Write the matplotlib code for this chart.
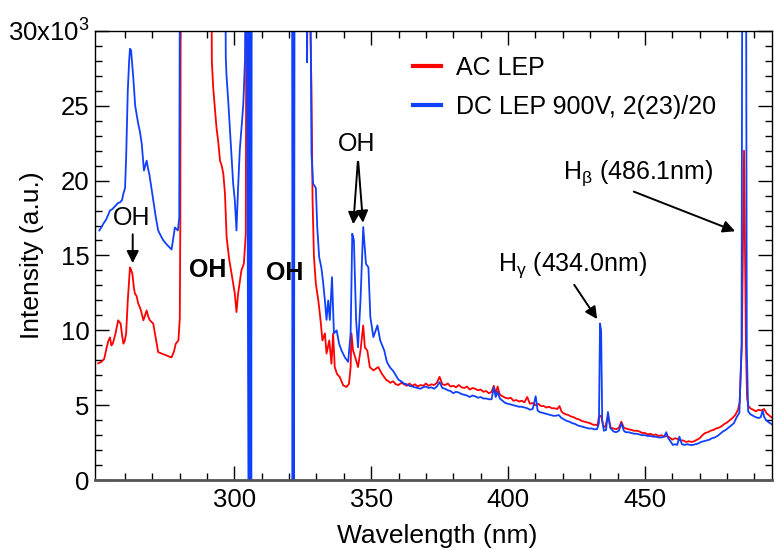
import matplotlib.pyplot as plt
from matplotlib.ticker import MultipleLocator, FixedLocator

plt.rcParams['font.family'] = ['Liberation Sans', 'DejaVu Sans']
plt.rcParams['mathtext.fontset'] = 'custom'
plt.rcParams['mathtext.rm'] = 'Liberation Sans'
plt.rcParams['mathtext.it'] = 'Liberation Sans'

# ---- data (values > 30e3 are off scale) ----
ac_wl = [250.3, 251.5, 252.5, 253.4, 254.0, 254.6, 255.1, 255.6, 256.5, 257.6,
         258.5, 259.0, 259.5, 260.0, 260.5, 261.1, 261.9, 262.4, 262.8, 263.3,
         263.7, 264.3, 264.9, 265.8, 266.8, 267.4, 268.0, 268.6, 269.2, 270.4,
         271.3, 272.2, 273.5, 275.2, 276.2, 277.1, 278.0, 278.6, 279.6, 280.1,
         280.3, 280.5, 291.6, 291.8, 292.3, 292.9, 293.5, 294.1, 294.8, 295.4,
         296.0, 296.6, 297.2, 298.1, 299.0, 300.2, 300.8, 301.4, 302.6, 303.5,
         304.2, 304.5, 327.2, 327.8, 328.2, 328.6, 329.1, 329.8, 330.7, 331.5,
         332.2, 333.1, 333.7, 334.7, 335.5, 336.1, 336.7, 337.5, 338.5, 339.8,
         341.0, 341.9, 342.5, 342.8, 343.4, 344.5, 345.2, 346.1, 347.1, 347.7,
         348.6, 349.5, 350.8, 352.6, 353.9, 355.6,
         356, 357, 358, 359, 360, 361, 362, 363, 364, 365,
         366, 367, 368, 369, 370, 371, 372, 373, 374, 375,
         376, 377, 378, 379, 380, 381, 382, 383, 384, 385,
         386, 387, 388, 389, 390, 391, 392, 393, 394, 394.8,
         395.5, 396.2, 397, 398, 399, 400, 401, 402, 403, 404,
         405, 406, 407, 408, 409, 410, 411, 412, 413, 414,
         415, 416, 417, 418, 418.8, 419.5, 420, 421, 422, 423,
         424, 425, 426, 427, 428, 429, 430, 431, 432, 432.7,
         433.2, 434, 434.8, 435.5, 436.5, 437.5, 438.5, 439.5, 440.5, 441.4,
         442.3, 443, 444, 445, 446, 447, 448, 449, 450, 451,
         452, 453, 454, 455, 456, 457, 458, 459, 460, 461,
         462, 463, 464, 465, 466, 467, 468, 469, 470, 471,
         472, 473, 474, 475, 476, 477, 478, 479, 480, 481,
         482, 483, 484, 484.6, 485.4, 486.2, 486.9, 487.3, 487.8, 488.5,
         489.5, 490.5, 491.5, 492.5, 493.5, 494.5, 495.5, 496.5, 497]
ac_int = [7800, 7900, 8100, 8870, 9300, 9530, 9000, 9100, 9700, 10670,
          10450, 9700, 9110, 9300, 9800, 12000, 14200, 14000, 13750, 12900,
          12450, 12300, 11800, 11400, 10670, 11000, 11330, 10900, 10670, 10450,
          9500, 8550, 8450, 8330, 8250, 8200, 8600, 9100, 9330, 10800,
          17500, 40000, 40000, 28000, 26200, 24870, 23540, 22660, 21330, 21000,
          20450, 19130, 16220, 14800, 13780, 12450, 11220, 12450, 14000, 14450,
          16450, 40000, 40000, 30000, 26200, 18670, 14900, 13100, 12000, 10700,
          9330, 9800, 8450, 9330, 7770, 9780, 7550, 7100, 6890, 6330,
          6220, 6440, 7550, 9800, 8650, 8000, 7550, 8650, 10330, 8870,
          8650, 7550, 7330, 7550, 7100, 6670,
          6650, 6500, 6600, 6400, 6350, 6500, 6400, 6300, 6450, 6300,
          6400, 6250, 6350, 6300, 6450, 6300, 6400, 6350, 6500, 6900,
          6400, 6350, 6450, 6250, 6300, 6200, 6350, 6200, 6150, 6250,
          6050, 6150, 6100, 6000, 6050, 5900, 5950, 5800, 5900, 6300,
          5800, 6250, 5700, 5600, 5500, 5450, 5500, 5300, 5350, 5250,
          5300, 5200, 5550, 5100, 5150, 5000, 5100, 4950, 4950, 4850,
          4900, 4800, 4800, 4750, 4950, 4600, 4500, 4400, 4350, 4250,
          4200, 4100, 4050, 3950, 3900, 3850, 3800, 3700, 3700, 3650,
          4250, 4300, 3600, 3550, 4300, 3500, 3450, 3400, 3500, 3900,
          3500, 3450, 3400, 3350, 3300, 3300, 3250, 3150, 3150, 3050,
          3100, 3000, 3050, 2950, 3000, 2900, 2950, 2850, 2700, 2800,
          2750, 2650, 2650, 2550, 2600, 2550, 2600, 2700, 2800, 3000,
          3150, 3200, 3300, 3350, 3450, 3500, 3600, 3750, 3850, 4000,
          4150, 4350, 4700, 5200, 9000, 22000, 9000, 5500, 4950, 4800,
          4700, 4600, 4700, 4650, 4750, 4450, 4300, 4150, 4100]

dc_wl = [250.7, 251.5, 252.2, 253.2, 254.6, 255.5, 256.5, 257.5, 258.3, 259.0,
         259.5, 260.1, 260.5, 261.1, 261.6, 261.9, 262.3, 262.7, 263.1, 263.8,
         264.9, 265.5, 266.2, 267.0, 267.5, 268.0, 268.5, 269.0, 270.4, 271.3,
         272.2, 273.2, 274.1, 275.5, 277.1, 278.0, 278.3, 279.4, 279.9, 280.2,
         296.6, 296.9, 297.2, 297.8, 298.4, 299.0, 299.6, 300.2, 300.8, 301.4,
         302.0, 303.3, 303.9, 304.5, 305.2, 305.45, 305.7, 305.95, 306.2, 306.4,
         321.1, 321.3, 321.55, 321.8, 322.05, 322.3, 326.3, 326.6, 327.0, 327.6,
         328.2, 328.8, 329.8, 330.3, 331.0, 331.8, 332.4, 333.1, 333.7, 334.3,
         334.9, 335.7, 336.4, 337.4, 338.3, 339.2, 340.4, 341.6, 342.5, 343.1,
         343.7, 344.5, 345.2, 346.1, 347.1, 348.1, 349.0, 349.7, 350.8, 352.3,
         353.3, 354.8, 355.6,
         356, 357, 358, 359, 360, 361, 362, 363, 364, 365,
         366, 367, 368, 369, 370, 371, 372, 373, 374, 375,
         376, 377, 378, 379, 380, 381, 382, 383, 384, 385,
         386, 387, 388, 389, 390, 391, 392, 393, 394, 394.8,
         395.5, 396.2, 397, 398, 399, 400, 401, 402, 403, 404,
         405, 406, 407, 408, 409, 410.1, 410.8, 411.5, 412.5, 413.5,
         414.5, 415.5, 416.5, 417.5, 418.5, 419.5, 420.5, 421.5, 422.5, 423.5,
         424.5, 425.5, 426.5, 427.5, 428.5, 429.5, 430.5, 431.5, 432.5, 433.2,
         433.6, 434.0, 434.4, 435, 435.8, 436.5, 437.3, 438.5, 439.5, 440.5,
         441.4, 442.3, 443, 444, 445, 446, 447, 448, 449, 450,
         451, 452, 453, 454, 455, 456, 457, 457.8, 458.5, 459.3,
         460.2, 461, 461.8, 462.6, 463.5, 464.5, 465.5, 466.5, 467.5, 468.5,
         469.5, 470.5, 471.5, 472.5, 473.5, 474.5, 475.5, 476.5, 477.5, 478.5,
         479.5, 480.5, 481.5, 482.5, 483.5, 484.5, 485.3, 485.6, 486.9, 487.2,
         487.7, 488.5, 489.5, 490.5, 491.5, 492.3, 493, 493.6, 494.3, 495.3,
         496.2, 497]
dc_int = [16670, 16900, 17130, 17400, 18000, 18100, 18300, 18500, 18550, 18700,
          19130, 19500, 21530, 26000, 28000, 28800, 28700, 27800, 26900, 25000,
          23800, 23300, 22460, 20670, 21000, 21330, 20800, 20400, 18670, 17600,
          16670, 16300, 16000, 15700, 15400, 16500, 16870, 16670, 17530, 40000,
          40000, 28200, 26900, 25300, 23500, 21800, 19780, 18670, 16670, 19550,
          22000, 25100, 28000, 40000, -2000, 40000, -2000, 40000, -2000, 40000,
          40000, -2000, 40000, -2000, 40000, 40000, 40000, 27900, 40000, 40000,
          21800, 19800, 19500, 16900, 14900, 14200, 13300, 12000, 10700, 12000,
          10700, 13550, 9800, 10000, 9100, 8650, 8200, 7900, 9800, 16450,
          16000, 10700, 8870, 12000, 16900, 14450, 14200, 10900, 9550, 10330,
          9330, 8650, 8000,
          7800, 7500, 7300, 7000, 6700, 6600, 6450, 6400, 6300, 6250,
          6200, 6150, 6100, 6200, 6250, 6150, 6200, 6100, 6250, 6550,
          6150, 6100, 6000, 5950, 5800, 5900, 5850, 5750, 5700, 5650,
          5550, 5650, 5600, 5500, 5550, 5450, 5450, 5400, 5400, 6200,
          5550, 5900, 5450, 5300, 5150, 5100, 5050, 5000, 4950, 4900,
          4900, 4850, 4800, 4700, 4750, 5600, 4650, 4550, 4500, 4450,
          4400, 4350, 4300, 4300, 4350, 4150, 4050, 3950, 3900, 3800,
          3750, 3650, 3600, 3550, 3500, 3450, 3450, 3400, 3400, 3800,
          10450, 10000, 4000, 3300, 3350, 4550, 3500, 3250, 3200, 3300,
          3800, 3300, 3200, 3200, 3150, 3100, 3100, 3050, 3000, 3000,
          2950, 2950, 2900, 2900, 2850, 2850, 2900, 3200, 2800, 2600,
          2350, 2400, 2350, 2900, 2400, 2350, 2400, 2350, 2350, 2400,
          2450, 2550, 2600, 2650, 2700, 2800, 2850, 2950, 3100, 3250,
          3350, 3500, 3650, 3800, 4200, 4500, 9000, 40000, 40000, 9000,
          4600, 4400, 4300, 4200, 4150, 4200, 4650, 4200, 4000, 3850,
          3750, 3650]

y_ticks = [0, 5000, 10000, 15000, 20000, 25000, 30000]
y_labels = ['0', '5', '10', '15', '20', '25', '30x10$^{3}$']
x_ticks = [300, 350, 400, 450]

fig, ax = plt.subplots(figsize=(7.74, 5.5), dpi=100)
fig.subplots_adjust(left=0.123, right=0.997, bottom=0.127, top=0.944)

ax.plot(ac_wl, ac_int, color='#ff0000', lw=1.3, label='AC LEP')
ax.plot(dc_wl, dc_int, color='#1040ff', lw=1.3, label='DC LEP 900V, 2(23)/20')

ax.set_xlim(249.2, 496.3)
ax.set_ylim(0, 30000)
ax.xaxis.set_major_locator(FixedLocator(x_ticks))
ax.xaxis.set_minor_locator(FixedLocator(list(range(260, 500, 10))))
ax.set_yticks(y_ticks)
ax.set_yticklabels(y_labels)
ax.yaxis.set_minor_locator(MultipleLocator(1000))
ax.tick_params(which='both', direction='in', top=True, right=True,
               labelsize=18.5)
ax.tick_params(axis='x', pad=6)
ax.tick_params(axis='y', pad=4)
ax.tick_params(which='major', length=10, width=1)
ax.tick_params(which='minor', length=5, width=1)
for s in ax.spines.values():
    s.set_linewidth(1)
ax.spines['bottom'].set_linewidth(2)
ax.spines['bottom'].set_color('#555555')

ax.set_xlabel('Wavelength (nm)', fontsize=19)
ax.set_ylabel('Intensity (a.u.)', fontsize=19)
ax.xaxis.set_label_coords(0.505, -0.097)
ax.yaxis.set_label_coords(-0.076, 0.5)

leg = ax.legend(loc='upper left', bbox_to_anchor=(0.47, 0.945), frameon=False,
                fontsize=18, handlelength=1.1, handletextpad=0.6,
                labelspacing=0.6, borderpad=0, borderaxespad=0)
for h in leg.get_lines():
    h.set_linewidth(3)

# annotations
arr = dict(arrowstyle='-|>', color='black', lw=1.4, mutation_scale=18)
fs = 18
ax.text(262.5, 17470, 'OH', fontsize=fs, ha='center', va='center')
ax.annotate('', xy=(262.9, 14300), xytext=(262.9, 16600), arrowprops=arr)
ax.text(290.4, 14000, 'OH', fontsize=fs, fontweight='bold', ha='center', va='center')
ax.text(318.5, 13800, 'OH', fontsize=fs, fontweight='bold', ha='center', va='center')
ax.text(344.6, 22450, 'OH', fontsize=fs, ha='center', va='center')
ax.annotate('', xy=(343.4, 16900), xytext=(345.2, 21440), arrowprops=arr)
ax.annotate('', xy=(347.1, 17000), xytext=(345.2, 21440), arrowprops=arr)
ax.text(396.2, 14330, 'H$_\\mathrm{γ}$ (434.0nm)', fontsize=fs, ha='left', va='center')
ax.annotate('', xy=(433.1, 10600), xytext=(423.6, 13200), arrowprops=arr)
ax.text(419.9, 20470, 'H$_\\mathrm{β}$ (486.1nm)', fontsize=fs, ha='left', va='center')
ax.annotate('', xy=(483.9, 16550), xytext=(445.0, 19330), arrowprops=arr)

fig.savefig('out.png', dpi=100)
